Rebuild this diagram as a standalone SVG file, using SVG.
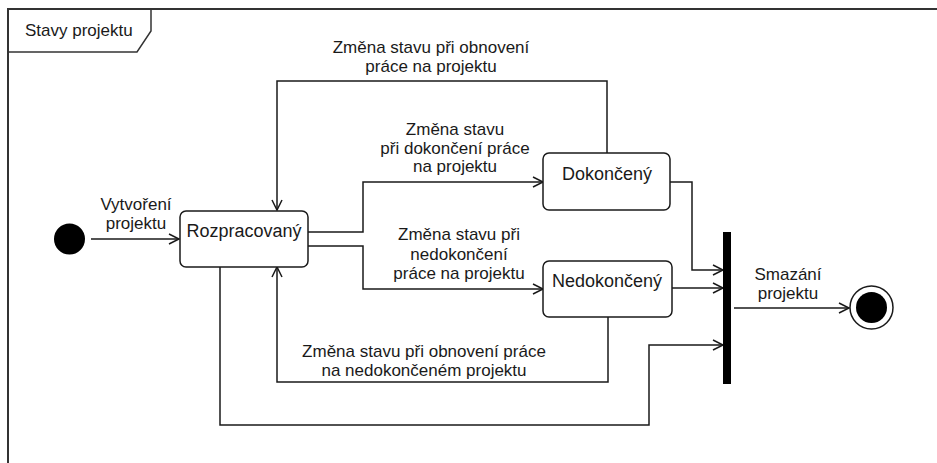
<svg xmlns="http://www.w3.org/2000/svg" width="937" height="463" viewBox="0 0 937 463">
<style>
.t{font-family:"Liberation Sans",Arial,sans-serif;font-size:17px;fill:#1a1a1a;text-anchor:middle}
.s{font-size:18px}
.box{fill:#fff;stroke:#1a1a1a;stroke-width:1.5}
.c{fill:none;stroke:#1a1a1a;stroke-width:1.5;marker-end:url(#a)}
</style>
<defs>
<marker id="a" markerUnits="userSpaceOnUse" markerWidth="14" markerHeight="14" refX="11" refY="6" orient="auto" viewBox="0 0 14 12">
<path d="M1,1 L11,6 L1,11" fill="none" stroke="#1a1a1a" stroke-width="1.5"/>
</marker>
</defs>
<rect width="937" height="463" fill="#fff"/>
<g id="frame">
<path d="M8,463 V9 H937" fill="none" stroke="#333" stroke-width="2"/>
<path d="M8,52 H137 L151,31 V9" fill="none" stroke="#333" stroke-width="1.5"/>
<text x="25" y="36" class="t" style="text-anchor:start">Stavy projektu</text>
</g>
<g id="connectors">
<path class="c" d="M91,239 H179"/>
<path class="c" d="M308,232 H363 V182 H543"/>
<path class="c" d="M308,246 H363 V289 H543"/>
<path class="c" d="M607,153 V81 H277 V210"/>
<path class="c" d="M608,317 V382 H277 V267"/>
<path class="c" d="M220,267 V425 H649 V345 H723"/>
<path class="c" d="M670,182 H692 V270 H723"/>
<path class="c" d="M672,288 H723"/>
<path class="c" d="M734,308 H849"/>
<text class="t" x="136" y="210">Vytvoření</text>
<text class="t" x="136" y="229">projektu</text>
<text class="t" x="431" y="53">Změna stavu při obnovení</text>
<text class="t" x="431" y="72">práce na projektu</text>
<text class="t" x="455" y="135">Změna stavu</text>
<text class="t" x="455" y="153.5">při dokončení práce</text>
<text class="t" x="455" y="172">na projektu</text>
<text class="t" x="459" y="240">Změna stavu při</text>
<text class="t" x="459" y="259.5">nedokončení</text>
<text class="t" x="459" y="279">práce na projektu</text>
<text class="t" x="424" y="357">Změna stavu při obnovení práce</text>
<text class="t" x="424" y="376">na nedokončeném projektu</text>
<text class="t" x="788" y="280">Smazání</text>
<text class="t" x="788" y="299">projektu</text>
</g>
<g id="initial">
<circle cx="69.5" cy="239" r="15.5" fill="#000"/>
</g>
<g id="rozpracovany">
<rect class="box" x="180" y="211" width="128" height="56" rx="6"/>
<text class="t s" x="244" y="237">Rozpracovaný</text>
</g>
<g id="dokonceny">
<rect class="box" x="543" y="153" width="127" height="57" rx="6"/>
<text class="t s" x="607" y="180">Dokončený</text>
</g>
<g id="nedokonceny">
<rect class="box" x="543" y="261" width="129" height="56" rx="6"/>
<text class="t s" x="607" y="287">Nedokončený</text>
</g>
<g id="bar">
<rect x="723" y="232" width="8" height="152" fill="#000"/>
</g>
<g id="final">
<circle cx="871.5" cy="307.5" r="21.5" fill="#fff" stroke="#1a1a1a" stroke-width="1.5"/>
<circle cx="871.5" cy="307.5" r="15.5" fill="#000"/>
</g>
</svg>
